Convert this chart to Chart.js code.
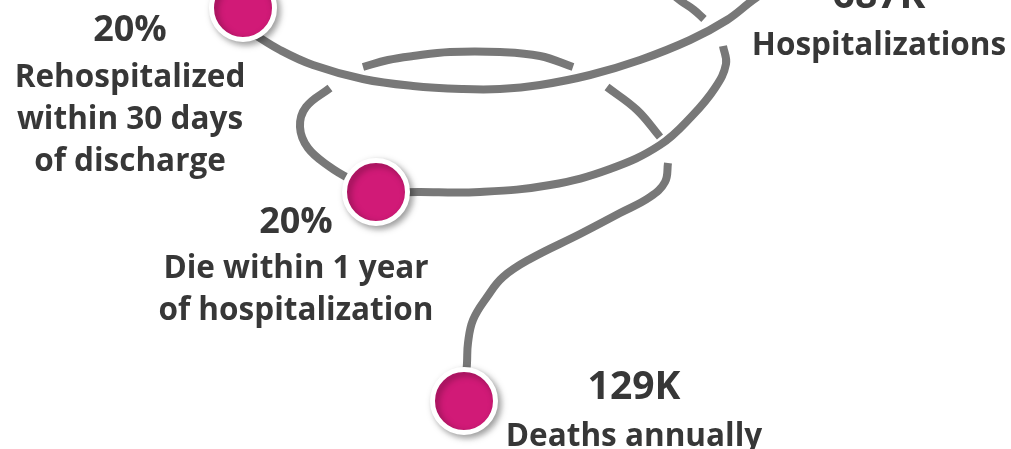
<!DOCTYPE html>
<html>
<head>
<meta charset="utf-8">
<script src="https://cdn.jsdelivr.net/npm/chart.js@4/dist/chart.umd.min.js"></script>
<style>
html,body{margin:0;padding:0;background:#ffffff;overflow:hidden}
#wrap{width:1011px;height:449px;position:relative}
</style>
</head>
<body>
<div id="wrap"><canvas id="c"></canvas></div>
<script>
// ---- data (sketch units: x 0..1011, y 0..449 from top) ----
const milestoneValues   = ['687K', '20%', '20%', '129K'];
const milestoneCaptions = [
  ['Hospitalizations'],
  ['Rehospitalized', 'within 30 days', 'of discharge'],
  ['Die within 1 year', 'of hospitalization'],
  ['Deaths annually']
];
// visible milestone markers on the spiral
const markerX = [243, 376, 464];
const markerY = [8, 192, 401];

// spiral pieces (the rope), back pieces end in gaps where they pass behind
const upperFrontX = [252, 280, 313, 363, 413, 463, 500, 540, 590, 640, 690, 727, 753, 775];
const upperFrontY = [33, 50, 65, 79, 86, 89, 89, 85, 75, 60, 40, 20, 0, -15];
const topBackX    = [662, 681, 694, 704];
const topBackY    = [-14, 1, 10, 19];
const lowerFrontX = [723, 726, 715, 692, 660, 610, 550, 480, 420, 376, 350, 330, 308, 300, 306, 330];
const lowerFrontY = [46, 64, 88, 116, 145, 169, 185, 192, 192, 191, 179, 167, 148, 127, 107, 88];
const lowerBackX  = [363, 388, 413, 450, 500, 540, 573];
const lowerBackY  = [67, 60, 56, 52, 52, 56, 67];
const rightSideX  = [607, 637, 660];
const rightSideY  = [87, 110, 137];
const tailX       = [668, 665, 650, 620, 580, 530, 503, 487, 473, 468, 467, 465];
const tailY       = [163, 182, 197, 213, 234, 259, 277, 297, 320, 343, 363, 395];

// ---- styles / layout ----
const ROPE = '#787878';
const PINK = '#D11A77';
const TEXT = '#373737';
const FONT = '"Open Sans", "Noto Sans", sans-serif';
const labelLayout = [
  {x: 879, valueY: 8,   lineY: [55]},
  {x: 130, valueY: 41,  lineY: [87, 129, 171]},
  {x: 296, valueY: 233, lineY: [278, 320]},
  {x: 634, valueY: 399, lineY: [446]}
];

const pts = (xs, ys) => xs.map((x, i) => ({x, y: ys[i]}));
const rope = (xs, ys) => ({
  type: 'line', data: pts(xs, ys), borderColor: ROPE, borderWidth: 8,
  pointRadius: 0, tension: 0.4, fill: false, borderCapStyle: 'butt', clip: false
});

const shadowPlugin = {
  id: 'markerShadow',
  beforeDatasetDraw(chart, args) {
    if (args.index === 0) {
      const ctx = chart.ctx;
      ctx.save();
      ctx.shadowColor = 'rgba(0,0,0,0.35)';
      ctx.shadowBlur = 7;
      ctx.shadowOffsetX = 3;
      ctx.shadowOffsetY = 3;
    }
  },
  afterDatasetDraw(chart, args) {
    if (args.index === 0) chart.ctx.restore();
  }
};

const textPlugin = {
  id: 'milestoneText',
  afterDraw(chart) {
    const ctx = chart.ctx, sx = chart.scales.x, sy = chart.scales.y;
    ctx.save();
    ctx.fillStyle = TEXT;
    ctx.textAlign = 'center';
    ctx.textBaseline = 'alphabetic';
    milestoneValues.forEach((v, i) => {
      const L = labelLayout[i];
      const px = sx.getPixelForValue(L.x);
      ctx.font = (i === 0 || i === 3 ? '700 39px ' : '700 36px ') + FONT;
      ctx.fillText(v, px, sy.getPixelForValue(L.valueY));
      ctx.font = '700 31.5px ' + FONT;
      milestoneCaptions[i].forEach((line, j) => {
        ctx.fillText(line, px, sy.getPixelForValue(L.lineY[j]));
      });
    });
    ctx.restore();
  }
};

new Chart(document.getElementById('c'), {
  type: 'scatter',
  data: {
    datasets: [
      {
        type: 'scatter', data: pts(markerX, markerY),
        pointRadius: 31.5, pointBackgroundColor: PINK,
        pointBorderColor: '#ffffff', pointBorderWidth: 5, clip: false
      },
      rope(upperFrontX, upperFrontY),
      rope(lowerFrontX, lowerFrontY),
      rope(topBackX, topBackY),
      rope(lowerBackX, lowerBackY),
      rope(rightSideX, rightSideY),
      rope(tailX, tailY)
    ]
  },
  options: {
    responsive: true,
    maintainAspectRatio: false,
    animation: false,
    layout: {padding: 0, autoPadding: false},
    plugins: {legend: {display: false}, tooltip: {enabled: false}},
    scales: {
      x: {type: 'linear', min: 0, max: 1011, display: false},
      y: {type: 'linear', min: 0, max: 449, reverse: true, display: false}
    }
  },
  plugins: [shadowPlugin, textPlugin]
});
</script>
</body>
</html>
